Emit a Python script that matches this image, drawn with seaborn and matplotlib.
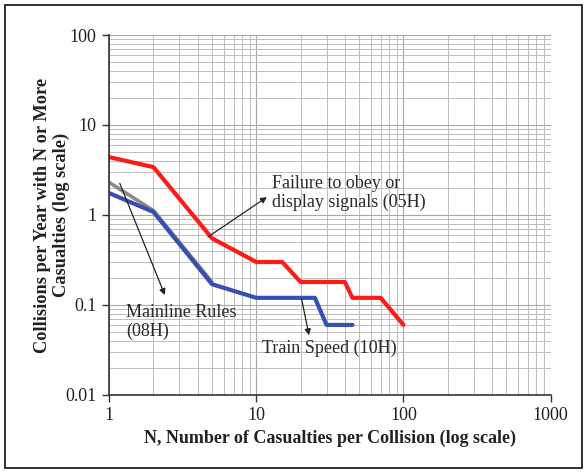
import numpy as np
import pandas as pd
import matplotlib
matplotlib.use("Agg")
import matplotlib.pyplot as plt
import seaborn as sns
from matplotlib.patches import Rectangle

# Data
n_05h = [1, 2, 5, 10, 15, 20, 40, 45, 70, 100]
f_05h = [4.4, 3.4, 0.55, 0.3, 0.3, 0.18, 0.18, 0.12, 0.12, 0.06]
n_08h = [1, 2, 5]
f_08h = [2.3, 1.12, 0.18]
n_10h = [1, 2, 5, 10, 25, 30, 45]
f_10h = [1.75, 1.08, 0.17, 0.12, 0.12, 0.06, 0.06]

x_ticks = [1, 10, 100, 1000]
x_tick_labels = ["1", "10", "100", "1000"]
y_ticks = [0.01, 0.1, 1, 10, 100]
y_tick_labels = ["0.01", "0.1", "1", "10", "100"]

sns.set_style("white")
plt.rcParams["font.family"] = ["Liberation Serif", "DejaVu Serif"]

fig = plt.figure(figsize=(5.87, 4.73), dpi=100)
ax = fig.add_axes([0.186, 0.165, 0.752, 0.761])

ax.set_xscale("log")
ax.set_yscale("log")
ax.set_xlim(1, 1000)
ax.set_ylim(0.01, 100)

ax.grid(True, which="major", color="#a8a8a8", lw=0.8)
ax.grid(True, which="minor", color="#bdbdbd", lw=0.7)
ax.set_axisbelow(True)

df08 = pd.DataFrame({"N": n_08h, "F": f_08h})
df10 = pd.DataFrame({"N": n_10h, "F": f_10h})
df05 = pd.DataFrame({"N": n_05h, "F": f_05h})
sns.lineplot(data=df08, x="N", y="F", ax=ax, color="#8a8a8a", lw=2.6, estimator=None, sort=False)
sns.lineplot(data=df10, x="N", y="F", ax=ax, color="#3550b0", lw=3.0, estimator=None, sort=False)
sns.lineplot(data=df05, x="N", y="F", ax=ax, color="#ff1a1a", lw=3.0, estimator=None, sort=False)

ax.set_xticks(x_ticks)
ax.set_xticklabels(x_tick_labels)
ax.set_yticks(y_ticks)
ax.set_yticklabels(y_tick_labels)
ax.tick_params(axis="both", which="major", direction="out", length=5, width=1,
               color="#333333", labelcolor="#222222", labelsize=13, pad=4,
               bottom=True, left=True)
ax.tick_params(axis="both", which="minor", length=0)

for s in ["top", "right"]:
    ax.spines[s].set_visible(False)
for s in ["left", "bottom"]:
    ax.spines[s].set_color("#333333")
    ax.spines[s].set_linewidth(1.2)

ax.set_xlabel("N, Number of Casualties per Collision (log scale)", fontsize=13,
              fontweight="bold", labelpad=4, color="#222222")
ax.set_ylabel("Collisions per Year with N or More\nCasualties (log scale)", fontsize=13.2,
              fontweight="bold", labelpad=-3, linespacing=1.1, color="#222222")

arrowprops = dict(arrowstyle="-|>", color="#222222", lw=0.9, mutation_scale=9,
                  shrinkA=0, shrinkB=0)
ax.annotate("", xy=(11.8, 1.58), xytext=(4.69, 0.57), arrowprops=arrowprops)
ax.annotate("", xy=(2.39, 0.129), xytext=(1.18, 2.25), arrowprops=arrowprops)
ax.annotate("", xy=(22.8, 0.046), xytext=(20.3, 0.117), arrowprops=arrowprops)

txt_kw = dict(fontsize=13, color="#2a2a2a", ha="left", va="center", linespacing=1.1)
ax.text(12.7, 1.76, "Failure to obey or\ndisplay signals (05H)", **txt_kw)
ax.text(1.31, 0.065, "Mainline Rules\n(08H)", **txt_kw)
ax.text(10.9, 0.033, "Train Speed (10H)", **txt_kw)

fig.patches.append(Rectangle((5 / 587, 1 - 468 / 473), 577 / 587, 463 / 473,
                             transform=fig.transFigure, fill=False,
                             edgecolor="#222222", lw=1.3))

fig.savefig("out.png", dpi=100)
